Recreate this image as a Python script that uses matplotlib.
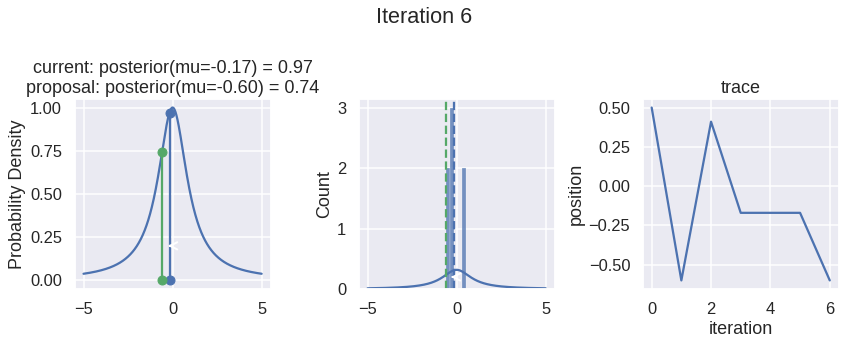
import numpy as np
import matplotlib
matplotlib.use("Agg")
import matplotlib.pyplot as plt
from matplotlib.ticker import MultipleLocator
import seaborn as sns

sns.set_theme(context="talk")
plt.rcParams["font.family"] = ["Liberation Sans", "DejaVu Sans"]

# sampler state at this step
iteration = 6
mu_current = -0.17
mu_proposal = -0.60
post_current = 0.97
post_proposal = 0.74
trace = [0.50, -0.60, 0.41, -0.17, -0.17, -0.17, -0.60]

# posterior is a Cauchy shape centred at 0 with unit scale
post_loc = 0.0
post_scale = 1.0
x = np.linspace(-5, 5, 1000)
z = (x - post_loc) / post_scale
post_unnorm = 1.0 / (1.0 + z ** 2)
post_pdf = post_unnorm / (np.pi * post_scale)

blue = sns.color_palette("deep")[0]
green = sns.color_palette("deep")[2]

fig, (ax1, ax2, ax3) = plt.subplots(ncols=3, figsize=(848 / 72, 347 / 72), dpi=72)
fig.subplots_adjust(left=0.088, right=0.989, bottom=0.167, top=0.715, wspace=0.45)
fig.suptitle("Iteration %i" % iteration, y=0.98)

# posterior with current / proposal heights
ax1.plot(x, post_unnorm, color=blue)
ax1.plot([mu_current] * 2, [0, post_current], marker="o", color=blue)
ax1.plot([mu_proposal] * 2, [0, post_proposal], marker="o", color=green)
ax1.annotate("", xy=(-0.38, 0.2), xytext=(0.02, 0.2),
             arrowprops=dict(arrowstyle="->", lw=2., color="w"))
ax1.set_title("current: posterior(mu=%.2f) = %.2f\nproposal: posterior(mu=%.2f) = %.2f"
              % (mu_current, post_current, mu_proposal, post_proposal))
ax1.set_ylabel("Probability Density")

# histogram of the trace so far
ax2.hist(trace, bins=5, color=blue, alpha=0.75, edgecolor="white", linewidth=0.3)
ax2.plot(x, post_pdf, color=blue)
ax2.axvline(mu_current, color=blue, linestyle="--")
ax2.axvline(mu_proposal, color=green, linestyle="--")
ax2.annotate("", xy=(-0.44, 0.2), xytext=(-0.02, 0.2),
             arrowprops=dict(arrowstyle="->", lw=2., color="w"))
ax2.set_ylabel("Count")

# trace
ax3.plot(range(len(trace)), trace, color=blue)
ax3.xaxis.set_major_locator(MultipleLocator(2))
ax3.set_title("trace")
ax3.set_xlabel("iteration")
ax3.set_ylabel("position")

fig.savefig("out.png", dpi=72)
